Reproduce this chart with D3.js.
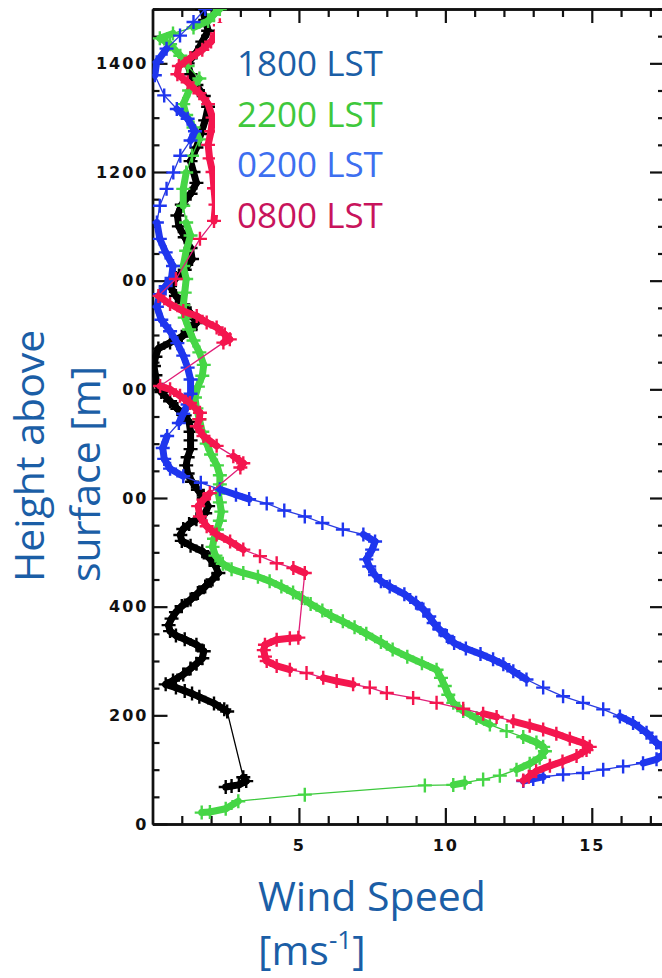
<!DOCTYPE html>
<html>
<head>
<meta charset="utf-8">
<script src="https://cdn.jsdelivr.net/npm/d3@7"></script>
<style>
  body { margin: 0; background: #fff; }
  svg { display: block; }
</style>
</head>
<body>
<div id="chart"></div>
<script>
// Wind profiles, each point is [wind speed (m/s), height above surface (m)]
const lst1800 = [
  [2.5,68],[2.7,70],[2.95,72],[3.2,79],[3.1,86],[2.55,207],[2.45,211],[2.1,222],[1.6,234],[1.35,240],
  [1.1,245],[0.8,251],[0.45,257],[0.7,264],[1.05,275],[1.3,286],[1.5,295],[1.7,305],[1.75,318],[1.5,330],
  [1.1,340],[0.8,347],[0.6,355],[0.55,366],[0.65,378],[0.8,390],[1.0,401],[1.3,413],[1.55,425],[1.8,437],
  [2.05,450],[2.25,462],[2.15,475],[1.95,489],[1.7,502],[1.3,512],[1.0,521],[0.95,532],[1.05,543],[1.25,552],
  [1.5,561],[1.8,572],[1.9,585],[1.75,600],[1.55,615],[1.35,630],[1.2,645],[1.15,660],[1.2,675],[1.3,690],
  [1.3,706],[1.3,722],[1.25,740],[1.1,752],[0.85,764],[0.6,778],[0.3,795],[0.15,810],[0.1,826],[0.05,843],
  [0.1,860],[0.2,875],[0.6,886],[1.0,897],[1.3,909],[1.5,922],[1.3,940],[1.05,956],[0.8,972],[0.6,990],
  [0.8,1005],[1.1,1020],[1.35,1040],[1.3,1060],[1.1,1080],[0.9,1100],[0.85,1120],[1.0,1140],[1.3,1160],[1.5,1180],
  [1.4,1200],[1.3,1220],[1.5,1245],[1.65,1270],[1.8,1295],[1.9,1320],[1.75,1340],[1.5,1360],[1.3,1380],[1.2,1400],
  [1.5,1420],[1.7,1440],[1.9,1460],[1.8,1480],[1.7,1500]
];
const lst2200 = [
  [1.68,21],[1.96,22],[2.5,28],[2.93,42],[5.2,54],[9.3,71],[10.27,72],[10.66,76],[11.29,82],[11.86,89],
  [12.43,100],[12.88,111],[13.22,122],[13.4,134],[13.34,142],[13.11,150],[12.66,160],[12.09,171],[11.52,183],[11.06,195],
  [10.61,208],[10.27,223],[10.1,238],[9.98,254],[9.85,269],[9.7,284],[9.2,296],[8.7,308],[8.2,321],[7.8,335],
  [7.3,350],[6.9,362],[6.5,373],[6.1,383],[5.8,393],[5.4,405],[5.1,416],[4.8,426],[4.4,437],[4.0,447],
  [3.6,455],[3.1,462],[2.7,469],[2.4,479],[2.15,494],[2.05,510],[2.1,525],[2.2,542],[2.3,558],[2.35,575],
  [2.3,592],[2.25,608],[2.3,625],[2.3,642],[2.2,660],[2.0,680],[1.85,700],[1.7,722],[1.6,745],[1.5,765],
  [1.45,785],[1.55,805],[1.7,825],[1.75,845],[1.6,868],[1.4,890],[1.25,910],[1.1,932],[1.05,955],[1.1,978],
  [1.15,1003],[1.05,1027],[1.15,1055],[1.3,1083],[1.15,1107],[1.05,1138],[1.05,1169],[1.15,1199],[1.35,1230],[1.6,1260],
  [1.4,1282],[1.15,1305],[1.05,1325],[1.25,1350],[1.6,1372],[1.2,1395],[0.95,1414],[0.6,1435],[0.25,1446],[0.7,1455],
  [1.4,1466],[1.9,1478],[2.1,1490],[2.3,1500]
];
const lst0200 = [
  [12.66,79],[13.0,83],[13.34,87],[14.02,91],[14.7,94],[15.39,100],[16.07,106],[16.75,112],[17.21,119],[17.45,128],
  [17.45,140],[17.2,150],[16.87,168],[16.41,186],[15.96,198],[15.39,211],[14.7,223],[14.02,235],[13.34,251],[12.77,266],
  [12.32,281],[11.98,294],[11.63,303],[11.2,313],[10.7,323],[10.3,333],[10.05,346],[9.8,358],[9.6,370],[9.45,382],
  [9.25,395],[9.0,407],[8.6,423],[8.1,437],[7.8,447],[7.6,458],[7.4,474],[7.3,487],[7.5,505],[7.6,520],
  [7.2,533],[6.5,542],[5.8,554],[5.2,566],[4.5,577],[3.9,590],[3.3,598],[2.85,606],[2.3,616],[1.65,628],
  [1.05,640],[0.6,654],[0.4,672],[0.35,692],[0.5,714],[0.9,738],[1.05,755],[1.2,772],[1.3,792],[1.3,818],
  [1.2,840],[1.05,862],[0.85,885],[0.6,907],[0.3,928],[0.15,952],[0.25,975],[0.45,990],[0.65,1005],[0.7,1027],
  [0.45,1052],[0.25,1077],[0.15,1107],[0.25,1138],[0.48,1169],[0.71,1199],[0.95,1230],[1.3,1258],[1.45,1275],[1.2,1298],
  [0.83,1316],[0.4,1341],[0.08,1378],[0.14,1402],[0.48,1427],[0.94,1451],[1.4,1476],[1.8,1500]
];
const lst0800 = [
  [12.66,80],[12.85,87],[13.1,97],[13.57,107],[14.0,115],[14.48,125],[14.82,136],[14.93,142],[14.7,149],[14.25,157],
  [13.79,166],[13.34,174],[12.88,181],[12.32,189],[11.75,197],[11.29,203],[10.61,212],[9.7,223],[8.9,232],[8.0,241],
  [7.42,251],[6.85,257],[6.29,263],[5.83,269],[5.26,278],[4.69,284],[4.24,291],[3.9,300],[3.84,308],[3.8,320],
  [3.84,330],[4.24,339],[4.69,342],[4.98,343],[5.2,462],[4.81,471],[4.24,480],[3.67,493],[3.1,505],[2.65,520],
  [2.19,533],[1.85,548],[1.62,566],[1.56,585],[1.74,597],[1.96,609],[3.0,656],[3.1,664],[2.76,677],[2.19,696],
  [1.74,714],[1.51,732],[1.6,745],[1.62,757],[1.28,775],[0.94,788],[0.6,800],[0.26,806],[2.42,886],[2.64,892],
  [2.47,901],[2.19,914],[1.85,923],[1.51,935],[1.05,944],[0.6,957],[0.2,972],[0.8,1003],[1.62,1077],[2.1,1110],
  [2.15,1140],[2.1,1170],[2.05,1200],[1.95,1225],[1.9,1250],[2.0,1275],[2.05,1300],[1.9,1325],[1.6,1345],[1.2,1365],
  [0.85,1380],[0.9,1395],[1.3,1410],[1.7,1425],[2.0,1440],[2.2,1455],[2.3,1470]
];

const seriesNames = ["1800 LST", "2200 LST", "0200 LST", "0800 LST"];
const seriesData = [lst1800, lst2200, lst0200, lst0800];
const xTickValues = [5, 10, 15];
const yTickValues = [0, 200, 400, 600, 800, 1000, 1200, 1400];

// colours: marker, connecting line, legend text
const markColor = ["#000000", "#46d646", "#1f36ee", "#f4164e"];
const lineColor = ["#000000", "#3cc83c", "#2a3ce0", "#e01f78"];
const legendColor = ["#1b5ea6", "#3fc83c", "#3d6ff0", "#c8145c"];

const width = 662, height = 978;
const plot = { left: 152.5, right: 665, top: 9, bottom: 824 };

const x = d3.scaleLinear().domain([0, 17.5]).range([plot.left, plot.right]);
const y = d3.scaleLinear().domain([0, 1500]).range([plot.bottom, plot.top]);

const svg = d3.select("#chart").append("svg")
  .attr("width", width)
  .attr("height", height)
  .style("font-family", "'Open Sans', sans-serif");

svg.append("defs").append("clipPath").attr("id", "plotClip")
  .append("rect")
  .attr("x", plot.left).attr("y", plot.top)
  .attr("width", plot.right - plot.left).attr("height", plot.bottom - plot.top);

// ---- axes (ticks point inward, like the IDL plot) ----
const minorY = d3.range(0, 1501, 50).filter(v => v % 200 !== 0);
const minorX = d3.range(0, 18, 1).filter(v => v % 5 !== 0);

function styleAxis(g) {
  g.selectAll(".domain").attr("stroke", "#111").attr("stroke-width", 2.4);
  g.selectAll(".tick line").attr("stroke", "#111").attr("stroke-width", 2.2);
  g.selectAll(".tick text")
    .attr("fill", "#111")
    .style("font-family", "'DejaVu Sans', sans-serif")
    .style("font-weight", "bold")
    .style("font-size", "16px")
    .style("letter-spacing", "2px");
}

// left
svg.append("g").attr("transform", `translate(${plot.left},0)`)
  .call(d3.axisLeft(y).tickValues(yTickValues).tickSize(-15).tickSizeOuter(0).tickPadding(4).tickFormat(d3.format("d")))
  .call(styleAxis);
svg.append("g").attr("transform", `translate(${plot.left},0)`)
  .call(d3.axisLeft(y).tickValues(minorY).tickSize(-7).tickSizeOuter(0).tickFormat(""))
  .call(styleAxis);
// right
svg.append("g").attr("transform", `translate(${plot.right},0)`)
  .call(d3.axisRight(y).tickValues(yTickValues).tickSize(-15).tickSizeOuter(0).tickFormat(""))
  .call(styleAxis);
svg.append("g").attr("transform", `translate(${plot.right},0)`)
  .call(d3.axisRight(y).tickValues(minorY).tickSize(-7).tickSizeOuter(0).tickFormat(""))
  .call(styleAxis);
// bottom
svg.append("g").attr("transform", `translate(0,${plot.bottom})`)
  .call(d3.axisBottom(x).tickValues(xTickValues).tickSize(-16).tickSizeOuter(0).tickPadding(16))
  .call(styleAxis);
svg.append("g").attr("transform", `translate(0,${plot.bottom})`)
  .call(d3.axisBottom(x).tickValues(minorX).tickSize(-8).tickSizeOuter(0).tickFormat(""))
  .call(styleAxis);
// top
svg.append("g").attr("transform", `translate(0,${plot.top})`)
  .call(d3.axisTop(x).tickValues(xTickValues).tickSize(-16).tickSizeOuter(0).tickFormat(""))
  .call(styleAxis);
svg.append("g").attr("transform", `translate(0,${plot.top})`)
  .call(d3.axisTop(x).tickValues(minorX).tickSize(-8).tickSizeOuter(0).tickFormat(""))
  .call(styleAxis);

// ---- profiles ----
const dataLayer = svg.append("g").attr("clip-path", "url(#plotClip)");
const cross = "M-7,0H7M0,-7V7";

function segLength(d) {
  return Math.hypot(x(d[1][0]) - x(d[0][0]), y(d[1][1]) - y(d[0][1]));
}

seriesData.forEach((series, si) => {
  const g = dataLayer.append("g").attr("class", "series-" + si);

  // connecting segments: dense runs read as a thick band, sparse gaps as a thin line
  g.selectAll("line")
    .data(d3.pairs(series))
    .join("line")
    .attr("x1", d => x(d[0][0])).attr("y1", d => y(d[0][1]))
    .attr("x2", d => x(d[1][0])).attr("y2", d => y(d[1][1]))
    .attr("stroke", d => segLength(d) < 17 ? markColor[si] : lineColor[si])
    .attr("stroke-width", d => segLength(d) < 17 ? 7 : 1.3)
    .attr("stroke-linecap", "round");

  g.selectAll("path")
    .data(series)
    .join("path")
    .attr("d", cross)
    .attr("transform", d => `translate(${x(d[0])},${y(d[1])})`)
    .attr("stroke", markColor[si])
    .attr("stroke-width", 2.4)
    .attr("fill", "none");
});

// ---- legend (sits on a white box over the upper part of the plot) ----
svg.append("rect")
  .attr("x", 215).attr("y", 23).attr("width", 425).attr("height", 192)
  .attr("fill", "#fff");

svg.append("g")
  .selectAll("text")
  .data(seriesNames)
  .join("text")
  .attr("x", 237)
  .attr("y", (d, i) => 76 + i * 50.7)
  .attr("fill", (d, i) => legendColor[i])
  .style("font-size", "35px")
  .text(d => d);

// ---- axis titles ----
svg.append("rect")
  .attr("x", 0).attr("y", 240).attr("width", 122).attr("height", 355)
  .attr("fill", "#fff");

const yTitle = svg.append("g").attr("fill", "#1b5ea6").style("font-size", "41px");
yTitle.append("text")
  .attr("transform", "translate(44,582) rotate(-90)")
  .text("Height above");
yTitle.append("text")
  .attr("transform", "translate(100,582) rotate(-90)")
  .text("surface [m]");

const xTitle = svg.append("g").attr("fill", "#1b5ea6").style("font-size", "41px");
xTitle.append("text")
  .attr("x", 258).attr("y", 911)
  .text("Wind Speed");
const unit = xTitle.append("text").attr("x", 258).attr("y", 965);
unit.append("tspan").text("[ms");
unit.append("tspan").attr("dy", -16).style("font-size", "26px").text("-1");
unit.append("tspan").attr("dy", 16).text("]");
</script>
</body>
</html>
